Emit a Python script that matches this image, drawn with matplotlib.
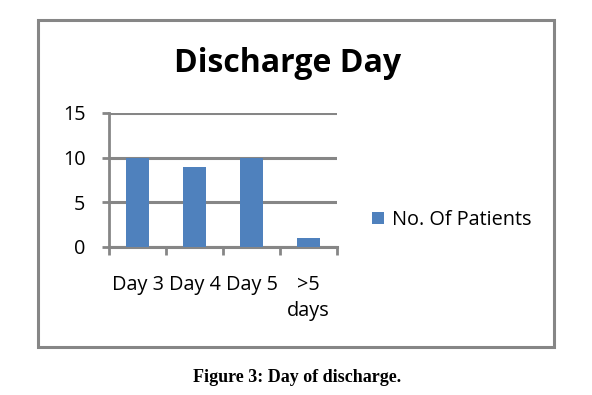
import matplotlib.pyplot as plt
from matplotlib.patches import Rectangle
import numpy as np

# data
days = ["Day 3", "Day 4", "Day 5", ">5\ndays"]
patients = [10, 9, 10, 1]
yticks = [0, 5, 10, 15]

plt.rcParams['font.family'] = ['Open Sans', 'DejaVu Sans']
grey = "#868686"
blue = "#4F81BD"

W, H = 592, 395
fig = plt.figure(figsize=(W / 100, H / 100), dpi=100)
ax = fig.add_axes([109 / W, 1 - 247 / H, (337 - 109) / W, (247 - 113) / H])

x = np.arange(len(days))
ax.bar(x, patients, width=0.4, color=blue, label="No. Of Patients", zorder=3)

ax.set_xlim(-0.5, len(days) - 0.5)
ax.set_ylim(0, 15)
ax.set_yticks(yticks)
ax.yaxis.grid(True, color=grey, linewidth=2.2, zorder=1)
ax.set_axisbelow(True)

for s in ["top", "right", "bottom"]:
    ax.spines[s].set_visible(False)
ax.spines["left"].set_color(grey)
ax.spines["left"].set_linewidth(2)
ax.axhline(0, color=grey, linewidth=2.2, zorder=2, clip_on=False)

# category labels between boundary ticks
ax.set_xticks(x)
ax.set_xticklabels(days, fontsize=14.3, linespacing=1.42)
ax.tick_params(axis="x", which="major", length=0, pad=20)
ax.set_xticks(np.arange(-0.5, len(days)), minor=True)
ax.tick_params(axis="x", which="minor", length=6, width=2, color=grey)
ax.tick_params(axis="y", length=5, width=2, color=grey, pad=12, labelsize=14.3)

fig.text(288 / W, 1 - 63 / H, "Discharge Day", ha="center", va="center",
         fontsize=23, fontweight="bold")

fig.legend(loc="center left", bbox_to_anchor=(372 / W, 1 - 220 / H),
           frameon=False, fontsize=14.3, handlelength=0.6, handleheight=0.6,
           handletextpad=0.4, borderpad=0, borderaxespad=0)

fig.add_artist(Rectangle((38 / W, 1 - 347 / H), (554 - 38) / W, (347 - 20) / H,
                         transform=fig.transFigure, fill=False,
                         edgecolor=grey, linewidth=2.2))

fig.text(297 / W, 1 - 377 / H, "Figure 3: Day of discharge.", ha="center",
         va="center", fontsize=13, fontweight="bold",
         family="Liberation Serif")

fig.savefig("out.png", dpi=100)
